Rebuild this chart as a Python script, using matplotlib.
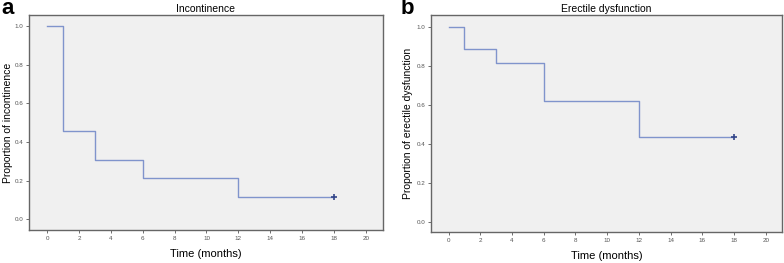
import numpy as np
import matplotlib.pyplot as plt

plt.rcParams['font.family'] = ['Liberation Sans', 'DejaVu Sans']

# Kaplan-Meier style step data
time_a = [0, 1, 3, 6, 12, 18]
prop_a = [1.0, 0.457, 0.309, 0.213, 0.118, 0.118]
time_b = [0, 1, 3, 6, 12, 18]
prop_b = [1.0, 0.887, 0.814, 0.618, 0.435, 0.435]
xticks = [0, 2, 4, 6, 8, 10, 12, 14, 16, 18, 20]
yticks = [0.0, 0.2, 0.4, 0.6, 0.8, 1.0]

line_col = '#8094cc'
cens_col = '#34468a'

fig = plt.figure(figsize=(7.84, 2.63), dpi=100)
fig.patch.set_facecolor('white')

W, H = 784, 263
panels = [
    dict(rect=(29, 15, 383, 230), t=time_a, p=prop_a, title='Incontinence',
         ylabel='Proportion of incontinence', letter='a', lx=1, ylx=-0.045,
         xlim=(-1.13, 21.07), ylim=(-0.055, 1.057)),
    dict(rect=(431, 15, 782, 232), t=time_b, p=prop_b, title='Erectile dysfunction',
         ylabel='Proportion of erectile dysfunction', letter='b', lx=401, ylx=-0.052,
         xlim=(-1.11, 21.03), ylim=(-0.053, 1.06)),
]

for pn in panels:
    x0, y0, x1, y1 = pn['rect']
    ax = fig.add_axes([x0 / W, 1 - y1 / H, (x1 - x0) / W, (y1 - y0) / H])
    ax.set_facecolor('#f0f0f0')
    ax.step(pn['t'], pn['p'], where='post', color=line_col, lw=1.0)
    ax.plot(pn['t'][-1], pn['p'][-1], marker='+', color=cens_col, ms=5, mew=1.2)
    ax.set_xlim(*pn['xlim'])
    ax.set_ylim(*pn['ylim'])
    ax.set_xticks(xticks)
    ax.set_yticks(yticks)
    ax.set_yticklabels(['%.1f' % v for v in yticks])
    ax.tick_params(labelsize=4.5, colors='#555555', length=2, width=0.6, pad=2)
    for s in ax.spines.values():
        s.set_color('#666666')
        s.set_linewidth(1.0)
    ax.set_title(pn['title'], fontsize=7.5, pad=2.5)
    ax.set_xlabel('Time (months)', fontsize=8, labelpad=6)
    ax.set_ylabel(pn['ylabel'], fontsize=7.5)
    ax.yaxis.set_label_coords(pn['ylx'], 0.5)
    fig.text(pn['lx'] / W, 1 - 14.5 / H, pn['letter'], fontsize=16, fontweight='bold',
             va='baseline', ha='left')

fig.savefig('out.png', dpi=100)
